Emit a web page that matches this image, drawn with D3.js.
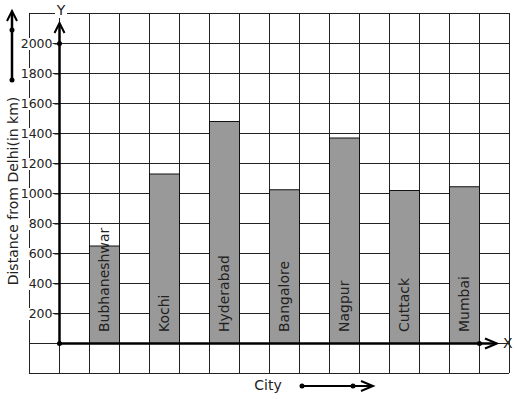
<!DOCTYPE html>
<html>
<head>
<meta charset="utf-8">
<script src="https://cdn.jsdelivr.net/npm/d3@7"></script>
<style>
  body { margin: 0; background: #fff; }
  text { font-family: "DejaVu Sans", sans-serif; }
</style>
</head>
<body>
<div id="chart"></div>
<script>
const cities = ['Bubhaneshwar', 'Kochi', 'Hyderabad', 'Bangalore', 'Nagpur', 'Cuttack', 'Mumbai'];
const distances = [650, 1130, 1480, 1025, 1370, 1020, 1045];
const yTicks = [200, 400, 600, 800, 1000, 1200, 1400, 1600, 1800, 2000];

const W = 517, H = 399;
const svg = d3.select('#chart').append('svg').attr('width', W).attr('height', H);

// y: 0 at the x axis, 200 per grid row
const y = d3.scaleLinear().domain([0, 2000]).range([343, 43]);
// grid columns, 0 on the y axis
const gx = d3.scaleLinear().domain([0, 1]).range([59, 89]);
const x = d3.scaleBand().domain(cities).range([74, 494]).paddingInner(0.5).paddingOuter(0.25);

// grid
const grid = svg.append('g').attr('stroke', '#222').attr('stroke-width', 1);
grid.selectAll('line.h')
  .data(d3.range(-200, 2201, 200))
  .enter().append('line')
  .attr('x1', gx(-1)).attr('x2', gx(15))
  .attr('y1', d => y(d) + 0.5).attr('y2', d => y(d) + 0.5);
grid.selectAll('line.v')
  .data(d3.range(-1, 16))
  .enter().append('line')
  .attr('x1', d => gx(d) + 0.5).attr('x2', d => gx(d) + 0.5)
  .attr('y1', y(2200)).attr('y2', y(-200));

// bars
svg.selectAll('rect.bar')
  .data(cities)
  .enter().append('rect')
  .attr('x', d => x(d) + 0.5)
  .attr('y', (d, i) => y(distances[i]) + 0.5)
  .attr('width', x.bandwidth())
  .attr('height', (d, i) => y(0) - y(distances[i]))
  .attr('fill', '#999')
  .attr('stroke', '#111');

svg.selectAll('text.city')
  .data(cities)
  .enter().append('text')
  .attr('transform', d => 'translate(' + (x(d) + x.bandwidth() / 2 + 4.5) + ',332) rotate(-90)')
  .attr('font-size', 14)
  .attr('fill', '#222')
  .text(d => d);

// y axis ticks
const yAxis = svg.append('g')
  .attr('transform', 'translate(59.5,0.5)')
  .call(d3.axisLeft(y).tickValues(yTicks).tickFormat(d3.format('d')).tickSize(5).tickPadding(2));
yAxis.select('.domain').remove();
yAxis.selectAll('.tick line').attr('stroke', '#111');
yAxis.selectAll('.tick text')
  .attr('font-size', 12.5)
  .attr('font-family', '"DejaVu Sans", sans-serif')
  .attr('fill', '#222');
yAxis.selectAll('.tick').each(function () {
  const t = d3.select(this).select('text');
  const b = t.node().getBBox();
  d3.select(this).insert('rect', 'text')
    .attr('x', b.x - 1).attr('y', b.y + 2)
    .attr('width', b.width + 1).attr('height', b.height - 3)
    .attr('fill', '#fff');
});

function chevronUp(g, cx, tip) {
  g.append('path')
    .attr('d', `M${cx - 5},${tip + 10}L${cx},${tip}L${cx + 5},${tip + 10}`)
    .attr('fill', 'none').attr('stroke', '#000').attr('stroke-width', 2);
}
function chevronRight(g, tip, cy) {
  g.append('path')
    .attr('d', `M${tip - 12},${cy - 5}L${tip},${cy}L${tip - 12},${cy + 5}`)
    .attr('fill', 'none').attr('stroke', '#000').attr('stroke-width', 2);
}

// main axes
const axes = svg.append('g');
axes.append('line').attr('x1', 59.5).attr('x2', 59.5).attr('y1', y(0)).attr('y2', 24)
  .attr('stroke', '#000').attr('stroke-width', 2.5);
chevronUp(axes, 59.5, 23);
axes.append('line').attr('x1', 59).attr('x2', 496).attr('y1', y(0) + 0.5).attr('y2', y(0) + 0.5)
  .attr('stroke', '#000').attr('stroke-width', 2.5);
chevronRight(axes, 497, y(0) + 0.5);
axes.selectAll('circle.pt')
  .data([[59.5, y(2000) + 0.5], [59.5, y(0) + 0.5], [gx(14) + 0.5, y(0) + 0.5]])
  .enter().append('circle')
  .attr('cx', d => d[0]).attr('cy', d => d[1]).attr('r', 2.5).attr('fill', '#000');

// axis letters
svg.append('rect').attr('x', 55).attr('y', 8).attr('width', 12).attr('height', 10).attr('fill', '#fff');
svg.append('text').attr('x', 61).attr('y', 15).attr('text-anchor', 'middle')
  .attr('font-size', 14).attr('fill', '#222').text('Y');
svg.append('text').attr('x', 503).attr('y', 348)
  .attr('font-size', 14).attr('fill', '#222').text('X');

// axis titles
svg.append('text')
  .attr('transform', 'translate(18,191) rotate(-90)')
  .attr('text-anchor', 'middle')
  .attr('font-size', 14).attr('fill', '#222')
  .text('Distance from Delhi(in km)');
svg.append('text').attr('x', 268).attr('y', 390).attr('text-anchor', 'middle')
  .attr('font-size', 14).attr('fill', '#222').text('City');

// side arrows
const side = svg.append('g');
side.append('line').attr('x1', 12).attr('x2', 12).attr('y1', 80).attr('y2', 13)
  .attr('stroke', '#000').attr('stroke-width', 2.5);
chevronUp(side, 12, 11);
side.append('line').attr('x1', 302).attr('x2', 372).attr('y1', 386).attr('y2', 386)
  .attr('stroke', '#000').attr('stroke-width', 2);
chevronRight(side, 373, 386);
side.selectAll('circle')
  .data([[12, 30], [12, 80], [302, 386], [353, 386]])
  .enter().append('circle')
  .attr('cx', d => d[0]).attr('cy', d => d[1]).attr('r', 2.5).attr('fill', '#000');
</script>
</body>
</html>
